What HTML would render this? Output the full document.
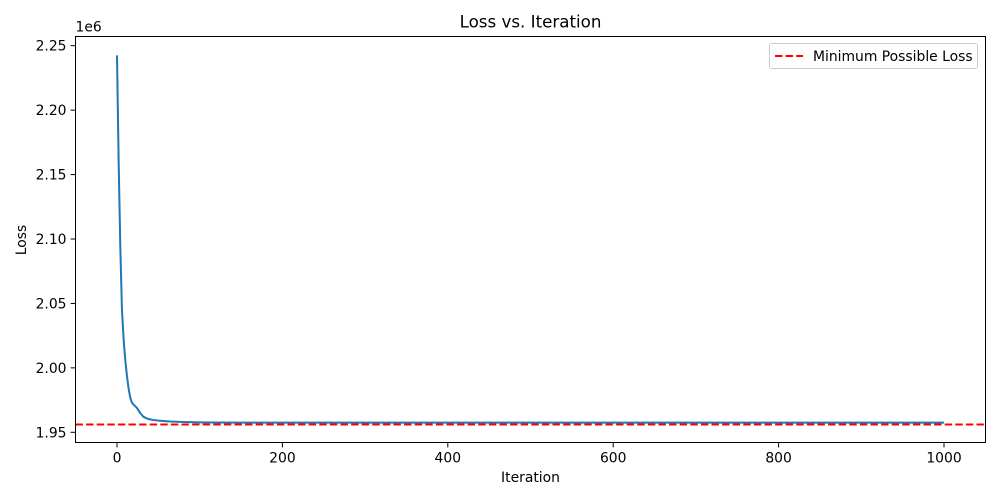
<!DOCTYPE html>
<html><head><meta charset="utf-8"><style>
html,body{margin:0;padding:0;background:#fff;}
svg{display:block;font-family:"DejaVu Sans","Liberation Sans",sans-serif;}
</style></head><body>
<svg id="chart" width="1000" height="500" viewBox="0 0 1000 500">
<rect x="0" y="0" width="1000" height="500" fill="#fff"/>
<g id="plot"></g>
</svg>
<script>
const iterations = [0, 2, 4, 6, 8, 10, 12, 14, 16, 18, 20, 24, 28, 32, 38, 44, 52, 64, 80, 100, 150, 200, 300, 400, 500, 600, 700, 800, 900, 1000];
const lossValues = [2.2425, 2.16, 2.094, 2.045, 2.022, 2.006, 1.994, 1.984, 1.977, 1.973, 1.9715, 1.969, 1.965, 1.962, 1.9603, 1.9595, 1.959, 1.9584, 1.958, 1.9577, 1.9575, 1.9575, 1.9575, 1.9575, 1.9575, 1.9575, 1.9575, 1.9575, 1.9575, 1.9575];
const minLoss = [1.95606];
const xTicks = [0, 200, 400, 600, 800, 1000];
const yTicks = [1.95, 2.00, 2.05, 2.10, 2.15, 2.20, 2.25];

const NS = "http://www.w3.org/2000/svg";
const L = 75.5, R = 985.5, T = 36.5, B = 442.5;
const FS = 13.9;
const xs = v => 117 + (v - 0) * (944 - 117) / 1000;
const ys = v => 432.3 - (v - 1.95) * (432.3 - 45.7) / 0.30;
const g = document.getElementById('plot');
function mk(tag, attrs, parent) {
  const e = document.createElementNS(NS, tag);
  for (const k in attrs) e.setAttribute(k, attrs[k]);
  (parent || g).appendChild(e);
  return e;
}
const defs = mk('defs', {});
const cp = mk('clipPath', {id: 'clip'}, defs);
mk('rect', {x: L, y: T, width: R - L, height: B - T}, cp);

let d = '';
iterations.forEach((it, i) => { d += (i ? 'L' : 'M') + xs(it).toFixed(2) + ',' + ys(lossValues[i]).toFixed(2); });
const line = mk('path', {d: d, fill: 'none', stroke: '#1f77b4', 'stroke-width': 2, 'stroke-linejoin': 'round', 'clip-path': 'url(#clip)'});



const ml = mk('line', {x1: L, x2: R, y1: ys(minLoss[0]), y2: ys(minLoss[0]), stroke: '#ff0000', 'stroke-width': 2, 'stroke-dasharray': '7.4,3.2'});



const fr = mk('rect', {x: L, y: T, width: R - L, height: B - T, fill: 'none', stroke: '#000', 'stroke-width': 1});



xTicks.forEach(v => {
  const x = xs(v);
  mk('line', {x1: x, x2: x, y1: B, y2: B + 4.9, stroke: '#000', 'stroke-width': 1});
  const t = mk('text', {x: x, y: B + 20, 'text-anchor': 'middle', 'font-size': FS, fill: '#000'});
  t.textContent = v;
  
  
});
yTicks.forEach(v => {
  const y = ys(v);
  mk('line', {x1: L - 4.9, x2: L, y1: y, y2: y, stroke: '#000', 'stroke-width': 1});
  const t = mk('text', {x: L - 9, y: y + 5, 'text-anchor': 'end', 'font-size': FS, fill: '#000'});
  t.textContent = v.toFixed(2);
  
  
});
function txt(s, attrs, name) {
  const t = mk('text', attrs);
  t.textContent = s;
  
  
  return t;
}
txt('1e6', {x: L, y: T - 5, 'font-size': FS}, 'y-offset-label');
txt('Loss vs. Iteration', {x: (L + R) / 2, y: T - 9, 'text-anchor': 'middle', 'font-size': 16.7}, 'chart-title');
txt('Iteration', {x: (L + R) / 2, y: 482, 'text-anchor': 'middle', 'font-size': FS}, 'x-axis-title');
txt('Loss', {x: 26, y: 240, 'text-anchor': 'middle', 'font-size': FS, transform: 'rotate(-90 26 240)'}, 'y-axis-title');

const lg = mk('g', {});


mk('rect', {x: 769.5, y: 43.5, width: 208, height: 25, rx: 2.5, fill: '#fff', stroke: '#ccc', 'stroke-width': 1}, lg);
mk('line', {x1: 775, x2: 803, y1: 56, y2: 56, stroke: '#ff0000', 'stroke-width': 2, 'stroke-dasharray': '7.4,3.2'}, lg);
const lt = mk('text', {x: 813, y: 61, 'font-size': FS}, lg);
lt.textContent = 'Minimum Possible Loss';


</script>
</body></html>
